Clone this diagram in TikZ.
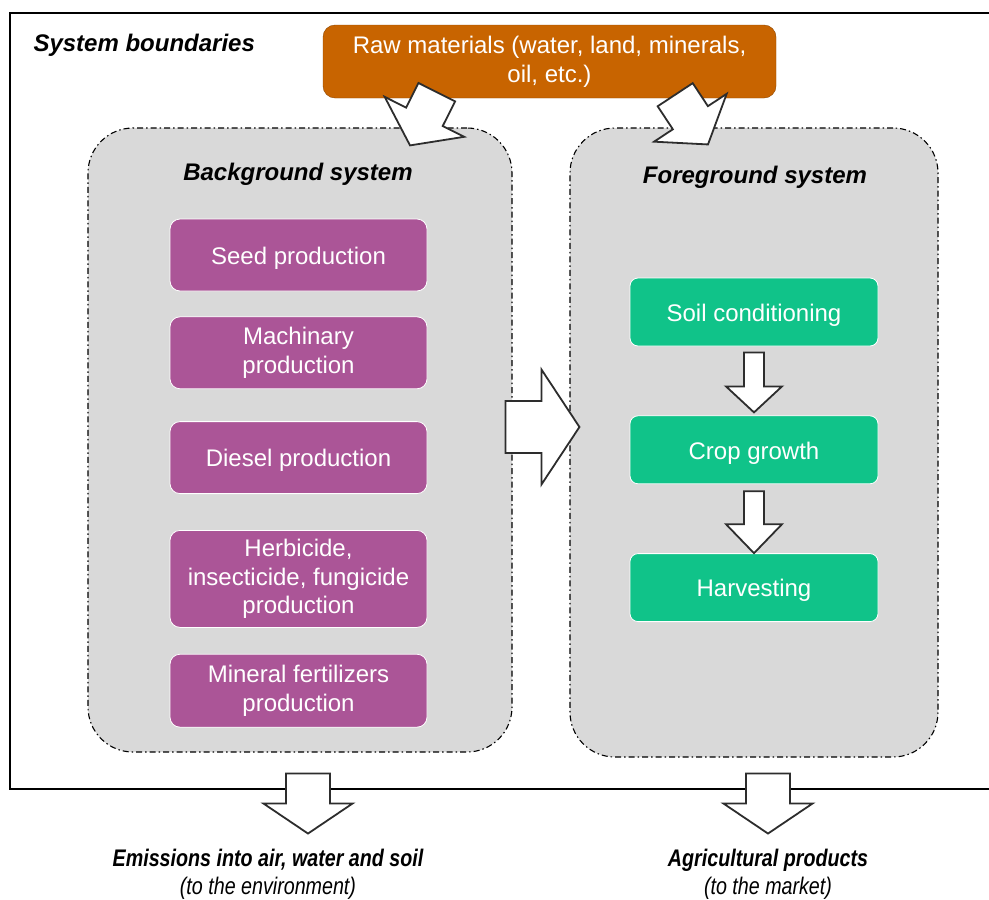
\documentclass[tikz,border=0pt]{standalone}
\usepackage{fontspec}
\setmainfont{Liberation Sans}
\newfontfamily\narrowfont[FakeStretch=0.82]{Liberation Sans}
\usetikzlibrary{calc, positioning}
\definecolor{rawcol}{RGB}{200,100,0}
\definecolor{bgcol}{RGB}{171,85,151}
\definecolor{fgcol}{RGB}{16,195,137}
\definecolor{syscol}{RGB}{217,217,217}
\definecolor{arrcol}{RGB}{45,45,45}
\tikzset{
  sysbox/.style   = {draw, fill=syscol, rounded corners=45pt, line width=1.1pt,
                     dash pattern=on 6pt off 3pt on 1.5pt off 3pt},
  rawnode/.style  = {draw=rawcol!70!black, fill=rawcol, rounded corners=12pt,
                     text=white, align=center, minimum width=453pt,
                     minimum height=73pt, font=\fontsize{24}{29}\selectfont,
                     execute at begin node={\rule{0pt}{22pt}}},
  bgnode/.style   = {draw=white, line width=0.8pt, fill=bgcol, rounded corners=10pt,
                     text=white, align=center, minimum width=257pt,
                     minimum height=72pt, font=\fontsize{24}{28.5}\selectfont,
                     execute at begin node={\rule{0pt}{23.5pt}}},
  fgnode/.style   = {draw=white, line width=0.8pt, fill=fgcol, rounded corners=8pt,
                     text=white, align=center, minimum width=248pt,
                     minimum height=68pt, font=\fontsize{24}{28.5}\selectfont,
                     execute at begin node={\rule{0pt}{23.5pt}}},
  heading/.style  = {font=\fontsize{24}{28}\selectfont\bfseries\itshape},
  outlabel/.style = {align=center, font=\fontsize{24}{28}\selectfont\narrowfont\itshape},
  fat/.style      = {draw=arrcol, fill=white, line width=1.8pt, line join=miter},
}
% block arrow: from, to, shaft width, head width, head length
\newcommand{\fatarrow}[5]{%
  \path (#1) coordinate (fa-s) (#2) coordinate (fa-e);
  \pgfpointdiff{\pgfpointanchor{fa-s}{center}}{\pgfpointanchor{fa-e}{center}}%
  \pgfgetlastxy{\fdx}{\fdy}%
  \pgfmathsetmacro{\fang}{atan2(\fdy,\fdx)}%
  \pgfmathsetmacro{\flen}{veclen(\fdx,\fdy)}%
  \begin{scope}[shift={(fa-s)}, rotate=\fang]
    \draw[fat] (0pt,#3/2) -- (\flen pt-#5,#3/2) -- (\flen pt-#5,#4/2) -- (\flen pt,0pt)
      -- (\flen pt-#5,-#4/2) -- (\flen pt-#5,-#3/2) -- (0pt,-#3/2) -- cycle;
  \end{scope}}

\begin{document}
\begin{tikzpicture}[x=1pt, y=-1pt]
  \useasboundingbox (0,0) rectangle (989,900);

  % system boundary
  \draw[line width=2pt] (10,13) rectangle (1000,789);
  \node[heading, anchor=west] (sysb) at (30,45) {System boundaries};

  \node[rawnode] (raw) at (549.5,61.5) {Raw materials (water, land, minerals,\\oil, etc.)};

  \node[sysbox, minimum width=424pt, minimum height=624pt] (bgsys) at (300,440) {};
  \node[sysbox, minimum width=368pt, minimum height=629pt] (fgsys) at (754,442.5) {};
  \node[heading] (bgtitle) at (298,174) {Background system};
  \node[heading] (fgtitle) at (755,177) {Foreground system};

  % background processes
  \node[bgnode] (seed) at (298.5,255) {Seed production};
  \node[bgnode, below=25pt of seed] (mach) {Machinary\\production};
  \node[bgnode, below=32pt of mach] (diesel) {Diesel production};
  \node[bgnode, below=36pt of diesel, minimum height=97pt] (herb) {Herbicide,\\insecticide, fungicide\\production};
  \node[bgnode, below=26pt of herb, minimum height=73pt] (mineral) {Mineral fertilizers\\production};

  % foreground processes
  \node[fgnode] (soil) at (754,312) {Soil conditioning};
  \node[fgnode, below=69pt of soil] (crop) {Crop growth};
  \node[fgnode, below=69pt of crop] (harv) {Harvesting};

  % outputs
  \node[outlabel] (emis) at (268,874) {{\bfseries Emissions into air, water and soil}\\(to the environment)};
  \node[outlabel] (agri) at (768,874) {{\bfseries Agricultural products}\\(to the market)};

  % flows
  \fatarrow{$(raw.south west)+(114,-6)$}{$(bgsys.north)+(110,18)$}{41pt}{89pt}{32pt}
  \fatarrow{$(raw.south east)+(-101,-3.5)$}{$(fgsys.north)+(-46,17)$}{42pt}{87pt}{32pt}
  \fatarrow{$(bgsys.east)+(-7,-13)$}{$(fgsys.west)+(10,-15.5)$}{52pt}{115pt}{38pt}
  \fatarrow{$(soil.south)+(0,6)$}{$(crop.north)+(0,-3)$}{20pt}{56pt}{26pt}
  \fatarrow{$(crop.south)+(0,7)$}{$(harv.north)$}{20pt}{56pt}{29pt}
  \fatarrow{$(bgsys.south)+(8,21)$}{$(bgsys.south)+(8,81)$}{44pt}{89pt}{30pt}
  \fatarrow{$(fgsys.south)+(14,16)$}{$(fgsys.south)+(14,76)$}{44pt}{89pt}{30pt}
\end{tikzpicture}
\end{document}
